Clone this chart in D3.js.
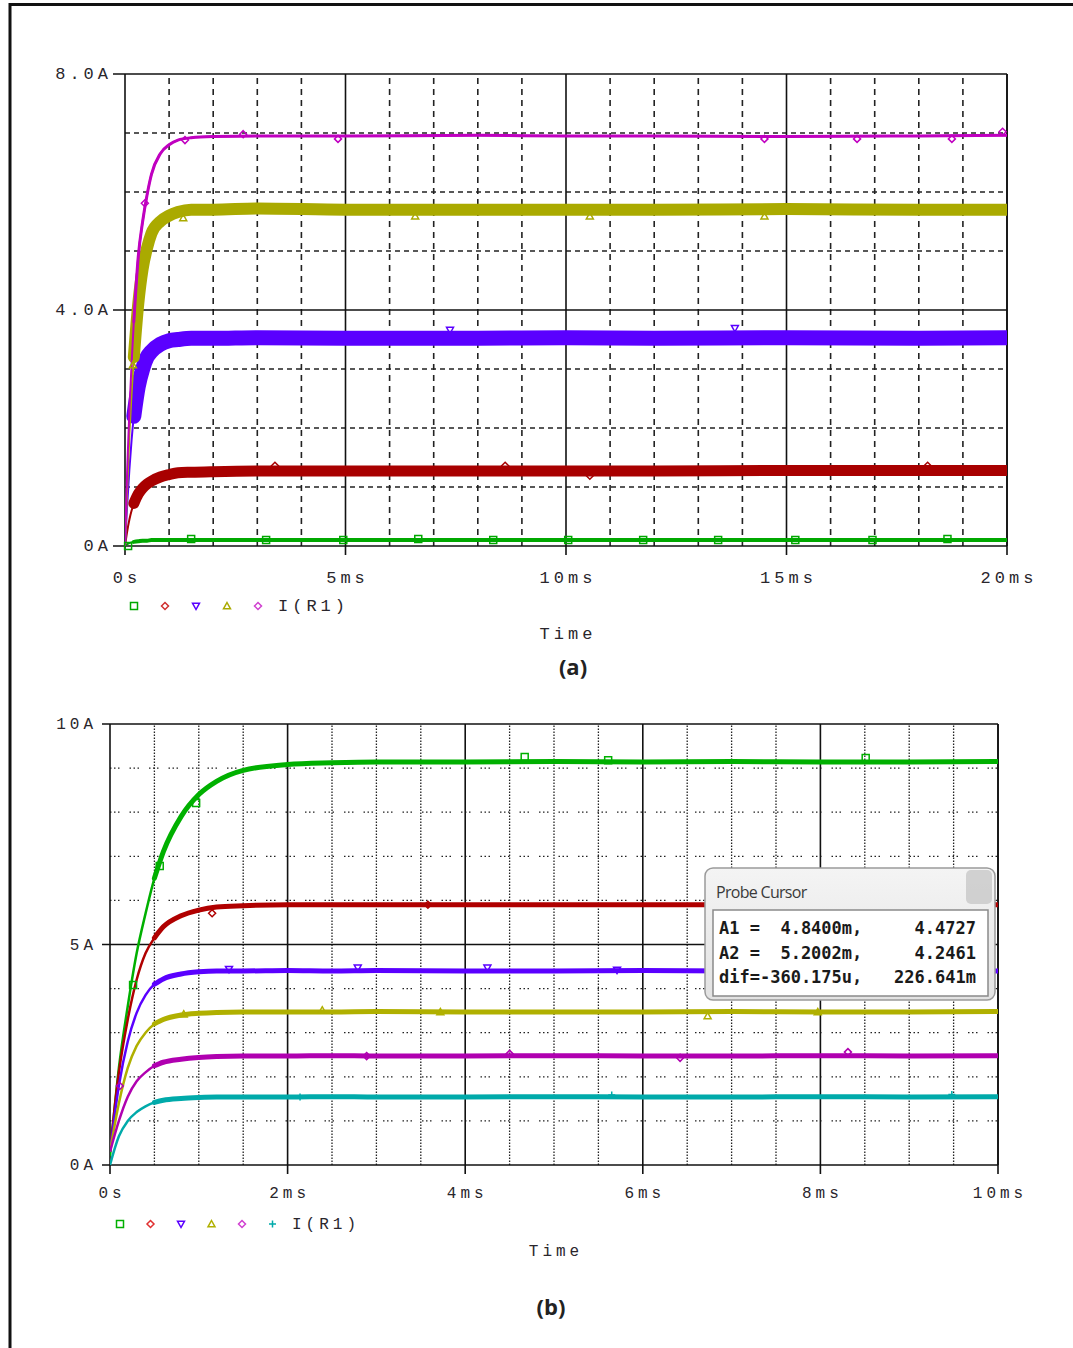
<!DOCTYPE html>
<html>
<head>
<meta charset="utf-8">
<script src="https://cdn.jsdelivr.net/npm/d3@7"></script>
<style>
	body { margin: 0; background: #fff; }
	text { font-family: "Liberation Mono", "DejaVu Sans Mono", monospace; }
</style>
</head>
<body>
<svg id="fig" width="1073" height="1348"></svg>
<script>
// ---- panel (a): time in ms, current in A
const timeA = [0, 0.05, 0.1, 0.15, 0.2, 0.3, 0.4, 0.5, 0.6, 0.8, 1.0, 1.2, 1.5, 2, 3, 5, 8, 10, 12, 15, 18, 20];
const greenA = [0, 0.03, 0.05, 0.06, 0.07, 0.08, 0.09, 0.09, 0.1, 0.1, 0.1, 0.1, 0.1, 0.1, 0.1, 0.1, 0.1, 0.1, 0.1, 0.1, 0.1, 0.1];
const redA = [0, 0.25, 0.45, 0.6, 0.72, 0.88, 0.98, 1.05, 1.1, 1.17, 1.21, 1.24, 1.25, 1.26, 1.27, 1.27, 1.27, 1.27, 1.27, 1.28, 1.28, 1.28];
const blueA = [0, 0.7, 1.3, 1.8, 2.2, 2.7, 3.0, 3.2, 3.3, 3.42, 3.48, 3.5, 3.52, 3.52, 3.53, 3.52, 3.52, 3.53, 3.52, 3.53, 3.52, 3.53];
const yellowA = [0, 1.0, 1.9, 2.6, 3.2, 4.1, 4.7, 5.05, 5.3, 5.5, 5.6, 5.66, 5.7, 5.7, 5.72, 5.7, 5.7, 5.7, 5.7, 5.71, 5.7, 5.7];
const magentaA = [0, 1.3, 2.3, 3.1, 3.8, 4.9, 5.5, 5.95, 6.3, 6.65, 6.8, 6.88, 6.92, 6.94, 6.95, 6.95, 6.96, 6.95, 6.95, 6.94, 6.95, 6.96];

// marker positions [ms, A]
const greenMarksA = [[0.07, 0], [1.5, 0.12], [3.2, 0.1], [4.95, 0.1], [6.65, 0.12], [8.35, 0.1], [10.05, 0.1], [11.75, 0.1], [13.45, 0.1], [15.2, 0.1], [16.95, 0.1], [18.65, 0.12]];
const redMarksA = [[3.4, 1.36], [8.62, 1.36], [10.54, 1.19], [18.2, 1.36]];
const blueMarksA = [[7.37, 3.66], [13.83, 3.69]];
const yellowMarksA = [[0.18, 3.07], [1.32, 5.56], [6.58, 5.59], [10.54, 5.59], [14.5, 5.59]];
const magentaMarksA = [[0.45, 5.81], [1.36, 6.88], [2.68, 6.98], [4.83, 6.9], [14.5, 6.9], [16.6, 6.9], [18.75, 6.9], [19.9, 7.02]];

const xTicksA = [0, 5, 10, 15, 20];
const xLabelsA = ['0s', '5ms', '10ms', '15ms', '20ms'];
const yTicksA = [0, 4, 8];
const yLabelsA = ['0A', '4.0A', '8.0A'];

// ---- panel (b)
const timeB = [0, 0.1, 0.2, 0.3, 0.4, 0.5, 0.6, 0.8, 1.0, 1.2, 1.5, 2, 2.5, 3, 4, 5, 6, 7, 8, 9, 10];
const greenB = [0.2, 2.2, 3.6, 4.8, 5.7, 6.5, 7.1, 7.9, 8.4, 8.7, 8.95, 9.08, 9.12, 9.14, 9.14, 9.15, 9.14, 9.15, 9.14, 9.14, 9.15];
const redB = [0.3, 2.1, 3.3, 4.2, 4.8, 5.15, 5.4, 5.65, 5.78, 5.85, 5.88, 5.9, 5.9, 5.9, 5.9, 5.9, 5.9, 5.9, 5.9, 5.9, 5.9];
const blueB = [0.3, 1.8, 2.8, 3.45, 3.85, 4.1, 4.22, 4.33, 4.38, 4.4, 4.4, 4.41, 4.4, 4.41, 4.4, 4.4, 4.41, 4.4, 4.4, 4.41, 4.4];
const yellowB = [0.3, 1.4, 2.2, 2.7, 3.0, 3.2, 3.3, 3.4, 3.44, 3.46, 3.47, 3.47, 3.47, 3.48, 3.47, 3.47, 3.47, 3.48, 3.47, 3.47, 3.48];
const magentaB = [0.3, 1.0, 1.55, 1.9, 2.1, 2.25, 2.33, 2.4, 2.44, 2.46, 2.47, 2.47, 2.48, 2.47, 2.47, 2.48, 2.47, 2.47, 2.48, 2.47, 2.48];
const cyanB = [0, 0.65, 1.0, 1.2, 1.33, 1.42, 1.47, 1.51, 1.53, 1.54, 1.54, 1.54, 1.55, 1.54, 1.54, 1.55, 1.54, 1.54, 1.55, 1.54, 1.55];

const greenMarksB = [[0.26, 4.08], [0.56, 6.78], [0.97, 8.21], [4.67, 9.25], [5.61, 9.18], [8.51, 9.23]];
const redMarksB = [[1.15, 5.71], [3.58, 5.9]];
const blueMarksB = [[1.34, 4.44], [2.79, 4.47], [4.25, 4.47], [5.71, 4.42]];
const yellowMarksB = [[0.83, 3.42], [2.39, 3.51], [3.72, 3.47], [6.73, 3.38], [7.97, 3.47]];
const magentaMarksB = [[0.11, 1.79], [2.89, 2.47], [4.5, 2.52], [6.42, 2.43], [8.31, 2.56]];
const cyanMarksB = [[2.14, 1.54], [5.65, 1.59], [9.48, 1.6]];

const xTicksB = [0, 2, 4, 6, 8, 10];
const xLabelsB = ['0s', '2ms', '4ms', '6ms', '8ms', '10ms'];
const yTicksB = [0, 5, 10];
const yLabelsB = ['0A', '5A', '10A'];

const cursorRows = [
	['A1 =  4.8400m,', '4.4727'],
	['A2 =  5.2002m,', '4.2461'],
	['dif=-360.175u,', '226.641m']
];

const svg = d3.select('#fig');
const defs = svg.append('defs');

// outer frame (top + left edge only)
svg.append('path')
	.attr('d', 'M10,1348V4.5H1073')
	.attr('fill', 'none')
	.attr('stroke', '#111')
	.attr('stroke-width', 3);

const symbolPath = (kind, size) => {
	const h = size / 2;
	if (kind === 'plus') return `M${-h},0H${h}M0,${-h}V${h}`;
	if (kind === 'diamond') return `M0,${-h}L${h},0L0,${h}L${-h},0Z`;
	if (kind === 'square') return `M${-h},${-h}H${h}V${h}H${-h}Z`;
	// triangle pointing up, flipped for 'down'
	return `M0,${-h}L${h},${h * 0.8}H${-h}Z`;
};

const drawMarker = (g, kind, color, x, y, size) => {
	g.append('path')
		.attr('d', symbolPath(kind, size))
		.attr('transform', `translate(${x},${y})` + (kind === 'down' ? ' rotate(180)' : ''))
		.attr('fill', 'none')
		.attr('stroke', color)
		.attr('stroke-width', 1.5);
};

const labelText = (sel, cfg) => sel
	.style('font-size', `${cfg.fontSize}px`)
	.style('letter-spacing', `${cfg.letterSpacing}px`)
	.attr('fill', '#2a262c');

const drawPanel = (cfg) => {
	const { x, y } = cfg;
	const g = svg.append('g');
	const [x0, x1] = x.range();
	const [y0, y1] = y.range();

	defs.append('clipPath')
		.attr('id', cfg.clipId)
		.append('rect')
			.attr('x', x0).attr('y', y1 - 10)
			.attr('width', x1 - x0).attr('height', y0 - y1 + 20);

	// minor grid
	g.append('g').selectAll('line')
		.data(cfg.minorX)
		.join('line')
			.attr('x1', d => x(d)).attr('x2', d => x(d))
			.attr('y1', y0).attr('y2', y1)
			.attr('stroke', '#222')
			.attr('stroke-width', cfg.gridWidth)
			.attr('stroke-dasharray', cfg.dashV);
	g.append('g').selectAll('line')
		.data(cfg.minorY)
		.join('line')
			.attr('x1', x0).attr('x2', x1)
			.attr('y1', d => y(d)).attr('y2', d => y(d))
			.attr('stroke', '#222')
			.attr('stroke-width', cfg.gridWidth)
			.attr('stroke-dasharray', cfg.dashH);

	// major grid + ticks
	g.append('g').selectAll('line')
		.data(cfg.xTicks)
		.join('line')
			.attr('x1', d => x(d)).attr('x2', d => x(d))
			.attr('y1', y0 + cfg.tickLen).attr('y2', y1)
			.attr('stroke', '#111')
			.attr('stroke-width', 1.6);
	g.append('g').selectAll('line')
		.data(cfg.yTicks)
		.join('line')
			.attr('x1', x0 - cfg.yTickLen).attr('x2', x1)
			.attr('y1', d => y(d)).attr('y2', d => y(d))
			.attr('stroke', '#111')
			.attr('stroke-width', 1.6);
	g.append('line')
		.attr('x1', x1).attr('x2', x1)
		.attr('y1', y0).attr('y2', y1)
		.attr('stroke', '#111')
		.attr('stroke-width', 1.6);

	// traces: thin rise, thick noisy band once settled
	const line = d3.line()
		.x(d => x(d[0]))
		.y(d => y(d[1]))
		.curve(d3.curveMonotoneX);

	const traces = g.append('g').attr('clip-path', `url(#${cfg.clipId})`);
	cfg.series.forEach(s => {
		const pts = cfg.time.map((t, i) => [t, s.values[i]]);
		traces.append('path')
			.datum(pts)
			.attr('d', line)
			.attr('fill', 'none')
			.attr('stroke', s.color)
			.attr('stroke-width', cfg.riseWidth);
		traces.append('path')
			.datum(pts.filter(d => d[0] >= cfg.bandFrom))
			.attr('d', line)
			.attr('fill', 'none')
			.attr('stroke', s.color)
			.attr('stroke-width', s.width)
			.attr('stroke-linejoin', 'round')
			.attr('stroke-linecap', 'round');
		s.marks.forEach(m => drawMarker(g, s.kind, s.color, x(m[0]), y(m[1]), cfg.markSize));
	});

	// tick labels
	g.append('g').selectAll('text')
		.data(cfg.xTicks)
		.join('text')
			.attr('x', d => x(d) + cfg.letterSpacing / 2)
			.attr('y', y0 + cfg.xLabelDy)
			.attr('text-anchor', 'middle')
			.call(labelText, cfg)
			.text((d, i) => cfg.xLabels[i]);
	g.append('g').selectAll('text')
		.data(cfg.yTicks)
		.join('text')
			.attr('x', x0 - cfg.yLabelDx + cfg.letterSpacing)
			.attr('y', d => y(d) + 5)
			.attr('text-anchor', 'end')
			.call(labelText, cfg)
			.text((d, i) => cfg.yLabels[i]);

	// legend
	const lg = g.append('g');
	cfg.series.forEach((s, i) => {
		drawMarker(lg, s.kind, s.legendColor || s.color, cfg.legendX + i * cfg.legendStep, cfg.legendY, cfg.markSize);
	});
	lg.append('text')
		.attr('x', cfg.legendX + cfg.series.length * cfg.legendStep - 11)
		.attr('y', cfg.legendY + 5)
		.call(labelText, cfg)
		.text('I(R1)');

	g.append('text')
		.attr('x', cfg.timeX + cfg.letterSpacing / 2)
		.attr('y', cfg.timeY)
		.attr('text-anchor', 'middle')
		.call(labelText, cfg)
		.text('Time');

	g.append('text')
		.attr('x', cfg.capX)
		.attr('y', cfg.capY)
		.attr('text-anchor', 'middle')
		.style('font-family', '"Open Sans", "Liberation Sans", sans-serif')
		.style('font-weight', 'bold')
		.style('font-size', '22px')
		.attr('fill', '#222')
		.text(cfg.caption);

	return g;
};

drawPanel({
	clipId: 'clipA',
	x: d3.scaleLinear([0, 20], [125, 1007]),
	y: d3.scaleLinear([0, 8], [546, 74]),
	time: timeA,
	minorX: d3.range(1, 20).filter(d => d % 5 !== 0),
	minorY: [1, 2, 3, 5, 6, 7],
	dashV: '6,5', dashH: '5,4', gridWidth: 1.6,
	xTicks: xTicksA, xLabels: xLabelsA, yTicks: yTicksA, yLabels: yLabelsA,
	tickLen: 9, yTickLen: 12, xLabelDy: 37, yLabelDx: 17,
	fontSize: 17, letterSpacing: 4,
	markSize: 7, riseWidth: 2, bandFrom: 0.2,
	series: [
		{ values: greenA, color: '#00a800', width: 4, kind: 'square', marks: greenMarksA },
		{ values: redA, color: '#a80000', width: 11, kind: 'diamond', marks: redMarksA, legendColor: '#d03030' },
		{ values: blueA, color: '#5a00ff', width: 15, kind: 'down', marks: blueMarksA },
		{ values: yellowA, color: '#aaaa00', width: 12, kind: 'up', marks: yellowMarksA },
		{ values: magentaA, color: '#c000c0', width: 3, kind: 'diamond', marks: magentaMarksA, legendColor: '#d040d0' }
	],
	legendX: 134, legendY: 606, legendStep: 31,
	timeX: 566, timeY: 639,
	caption: '(a)', capX: 573, capY: 675
});

drawPanel({
	clipId: 'clipB',
	x: d3.scaleLinear([0, 10], [110, 998]),
	y: d3.scaleLinear([0, 10], [1165, 724]),
	time: timeB,
	minorX: d3.range(0.5, 10, 0.5).filter(d => d % 2 !== 0),
	minorY: [1, 2, 3, 4, 6, 7, 8, 9],
	dashV: '1.5,1.5', dashH: '1.5,2.5,1.5,2.5,1.5,10', gridWidth: 1.3,
	xTicks: xTicksB, xLabels: xLabelsB, yTicks: yTicksB, yLabels: yLabelsB,
	tickLen: 9, yTickLen: 8, xLabelDy: 33, yLabelDx: 17,
	fontSize: 16, letterSpacing: 4,
	markSize: 7, riseWidth: 2.5, bandFrom: 0.5,
	series: [
		{ values: greenB, color: '#00b000', width: 5, kind: 'square', marks: greenMarksB },
		{ values: redB, color: '#b00000', width: 5, kind: 'diamond', marks: redMarksB, legendColor: '#e03030' },
		{ values: blueB, color: '#5a00ff', width: 5, kind: 'down', marks: blueMarksB },
		{ values: yellowB, color: '#b0b000', width: 5, kind: 'up', marks: yellowMarksB },
		{ values: magentaB, color: '#b000b0', width: 5, kind: 'diamond', marks: magentaMarksB, legendColor: '#d040d0' },
		{ values: cyanB, color: '#00aaaa', width: 5, kind: 'plus', marks: cyanMarksB }
	],
	legendX: 120, legendY: 1224, legendStep: 30.5,
	timeX: 554, timeY: 1256,
	caption: '(b)', capX: 551, capY: 1315
});

// probe cursor window
const pc = svg.append('g');
const grad = defs.append('linearGradient')
	.attr('id', 'pcbg').attr('x1', 0).attr('y1', 0).attr('x2', 0).attr('y2', 1);
grad.append('stop').attr('offset', 0).attr('stop-color', '#f4f4f4');
grad.append('stop').attr('offset', 1).attr('stop-color', '#e2e2e2');

pc.append('rect')
	.attr('x', 705).attr('y', 868).attr('width', 290).attr('height', 132)
	.attr('rx', 8)
	.attr('fill', 'url(#pcbg)')
	.attr('stroke', '#9a9a9a')
	.attr('stroke-width', 1.5);
pc.append('rect')
	.attr('x', 966).attr('y', 870).attr('width', 26).attr('height', 34)
	.attr('rx', 5)
	.attr('fill', '#c8c8c8')
	.attr('opacity', 0.8);
pc.append('text')
	.attr('x', 716).attr('y', 898)
	.style('font-family', '"Open Sans", "Liberation Sans", sans-serif')
	.style('font-size', '16px')
	.style('letter-spacing', '-0.7px')
	.attr('fill', '#3a3a3a')
	.text('Probe Cursor');
pc.append('rect')
	.attr('x', 713).attr('y', 910).attr('width', 275).attr('height', 86)
	.attr('fill', '#fff')
	.attr('stroke', '#8a8a8a')
	.attr('stroke-width', 1.5);

pc.selectAll('text.row')
	.data(cursorRows)
	.join('text')
		.attr('class', 'row')
		.attr('x', 719)
		.attr('y', (d, i) => 934 + i * 24.5)
		.style('font-family', '"DejaVu Sans Mono", monospace')
		.style('font-weight', 'bold')
		.style('font-size', '17px')
		.style('white-space', 'pre')
		.attr('fill', '#1a1a1a')
		.text(d => d[0]);
pc.selectAll('text.val')
	.data(cursorRows)
	.join('text')
		.attr('class', 'val')
		.attr('x', 976)
		.attr('y', (d, i) => 934 + i * 24.5)
		.attr('text-anchor', 'end')
		.style('font-family', '"DejaVu Sans Mono", monospace')
		.style('font-weight', 'bold')
		.style('font-size', '17px')
		.attr('fill', '#1a1a1a')
		.text(d => d[1]);
</script>
</body>
</html>
